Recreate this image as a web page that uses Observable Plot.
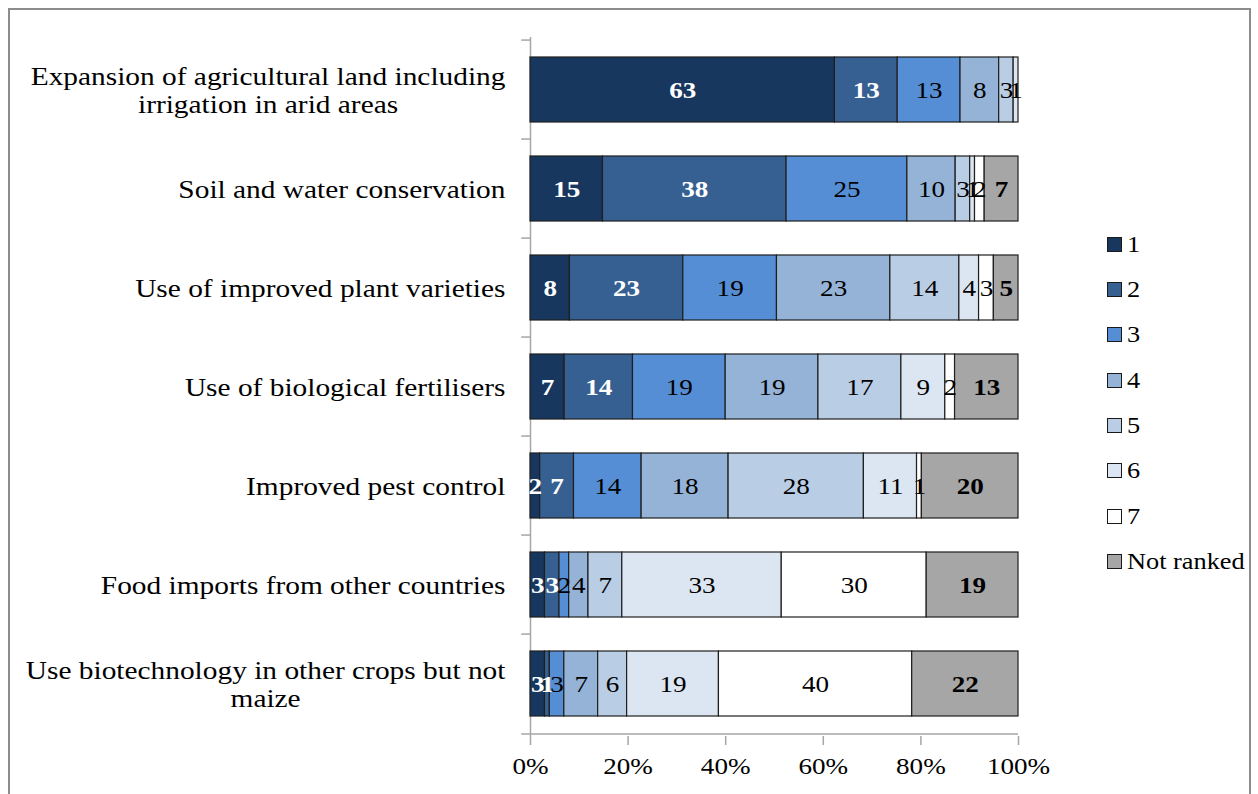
<!DOCTYPE html>
<html>
<head>
<meta charset="utf-8">
<script src="https://cdn.jsdelivr.net/npm/d3@7"></script>
<script src="https://cdn.jsdelivr.net/npm/@observablehq/plot@0.6"></script>
<style>
  html, body { margin: 0; padding: 0; background: #fff; overflow: hidden; }
  #wrap { position: relative; width: 1258px; height: 794px; font-family: "Liberation Serif", "Times New Roman", serif; }
  #frame { position: absolute; left: 8px; top: 8px; width: 1243px; height: 820px; border: 2px solid #8c8c8c; box-sizing: border-box; pointer-events: none; }
  #chart { position: absolute; left: 0; top: 0; }
  #chart svg, #chart svg text { font-family: "Liberation Serif", "Times New Roman", serif !important; }
  #legend { position: absolute; left: 1107px; top: 229px; display: flex; flex-direction: column; gap: 15.4px; }
  .item { display: flex; align-items: center; height: 30px; font-size: 23.5px; color: #000; }
  .item span.lab { display: inline-block; transform: scaleX(1.12); transform-origin: left center; }
  .swatch { width: 13px; height: 13px; border: 1px solid #1a1a1a; margin-right: 5px; flex: none; }
</style>
</head>
<body>
<div id="wrap">
  <div id="chart"></div>
  <div id="legend"></div>
  <div id="frame"></div>
</div>
<script>
// Measures of adaptation, share of respondents giving each rank (%)
const categories = [
  "Expansion of agricultural land including\nirrigation in arid areas",
  "Soil and water conservation",
  "Use of improved plant varieties",
  "Use of biological fertilisers",
  "Improved pest control",
  "Food imports from other countries",
  "Use biotechnology in other crops but not\nmaize"
];
const ranks = ["1", "2", "3", "4", "5", "6", "7", "Not ranked"];
const rank1 = [63, 15, 8, 7, 2, 3, 3];
const rank2 = [13, 38, 23, 14, 7, 3, 1];
const rank3 = [13, 25, 19, 19, 14, 2, 3];
const rank4 = [8, 10, 23, 19, 18, 4, 7];
const rank5 = [3, 3, 14, 17, 28, 7, 6];
const rank6 = [1, 1, 4, 9, 11, 33, 19];
const rank7 = [0, 2, 3, 2, 1, 30, 40];
const notRanked = [0, 7, 5, 13, 20, 19, 22];
const xTicks = [0, 0.2, 0.4, 0.6, 0.8, 1];

const colors = ["#17375e", "#376092", "#558ed5", "#95b3d7", "#b9cde5", "#dce6f2", "#ffffff", "#a6a6a6"];
const series = [rank1, rank2, rank3, rank4, rank5, rank6, rank7, notRanked];

// Long format table for stacking; zero shares are left out
const data = [];
categories.forEach((cat, i) => {
  series.forEach((vals, j) => {
    if (vals[i] > 0) data.push({cat, rank: ranks[j], value: vals[i]});
  });
});

const W = 1258, H = 794, mL = 530, mR = 240, mT = 37, mB = 58;
const step = (H - mT - mB) / categories.length;
const labelSize = 26, valueSize = 24, tickSize = 24;
const stretch = 1.13; // wide-set type
const fontFamily = '"Liberation Serif", "Times New Roman", serif';

// Category labels are wrapped and centred as a block that ends just left of the axis
const ctx = document.createElement("canvas").getContext("2d");
ctx.font = `${labelSize}px ${fontFamily}`;
const blockWidth = s => stretch * Math.max(...s.split("\n").map(l => ctx.measureText(l).width));

const whiteText = new Set(["1", "2"]);
const boldText = new Set(["1", "2", "Not ranked"]);

const stackOpts = (extra) => Plot.stackX({
  x: "value", y: "cat", z: "rank", order: ranks, offset: "normalize", ...extra
});

const chart = Plot.plot({
  width: W, height: H,
  marginLeft: mL, marginRight: mR, marginTop: mT, marginBottom: mB,
  style: `font-family: ${fontFamily}; font-size: ${labelSize}px; background: transparent; color: #000;`,
  x: {domain: [0, 1]},
  y: {domain: categories, paddingInner: 0.34, paddingOuter: 0.17, axis: null},
  color: {domain: ranks, range: colors},
  marks: [
    // axis lines and category separators
    Plot.ruleX([0], {stroke: "#a6a6a6", strokeWidth: 1.5}),
    Plot.ruleY(categories, {y: d => d, x1: -0.018, x2: 0, dy: -step / 2, stroke: "#a6a6a6", strokeWidth: 1.5}),
    Plot.ruleY([categories[categories.length - 1]], {y: d => d, x1: -0.018, x2: 1, dy: step / 2, stroke: "#a6a6a6", strokeWidth: 1.5}),
    Plot.axisX({ticks: xTicks, tickFormat: d => Math.round(d * 100) + "%", label: null, tickSize: 9, tickPadding: 11, stroke: "#a6a6a6", strokeWidth: 1.5, fill: "#000", fontSize: tickSize, fontFamily}),
    // stacked shares
    Plot.barX(data, stackOpts({fill: "rank", stroke: "#1f1f1f", strokeWidth: 1.2})),
    Plot.text(data, stackOpts({
      text: d => boldText.has(d.rank) ? String(d.value) : null,
      fill: d => whiteText.has(d.rank) ? "#fff" : "#000",
      fontWeight: "bold", fontSize: valueSize, fontFamily
    })),
    Plot.text(data, stackOpts({
      text: d => boldText.has(d.rank) ? null : String(d.value),
      fill: "#000", fontSize: valueSize, fontFamily
    })),
    // category labels
    ...categories.map(c => Plot.text([c], {
      y: d => d, text: d => d, frameAnchor: "left", textAnchor: "middle",
      lineAnchor: "middle", lineHeight: 1.08, fontSize: labelSize, fontFamily, fill: "#000",
      dx: -(mL - 505) - blockWidth(c) / 2
    }))
  ]
});

// widen every label about its own anchor point
chart.querySelectorAll("text").forEach(t => {
  const tr = t.getAttribute("transform") || "";
  t.setAttribute("transform", `${tr} scale(${stretch},1)`.trim());
});
document.getElementById("chart").appendChild(chart);

// legend
const legend = document.getElementById("legend");
ranks.forEach((r, i) => {
  const item = document.createElement("div");
  item.className = "item";
  const sw = document.createElement("span");
  sw.className = "swatch";
  sw.style.background = colors[i];
  const label = document.createElement("span");
  label.className = "lab";
  label.textContent = r;
  item.append(sw, label);
  legend.appendChild(item);
});
</script>
</body>
</html>
